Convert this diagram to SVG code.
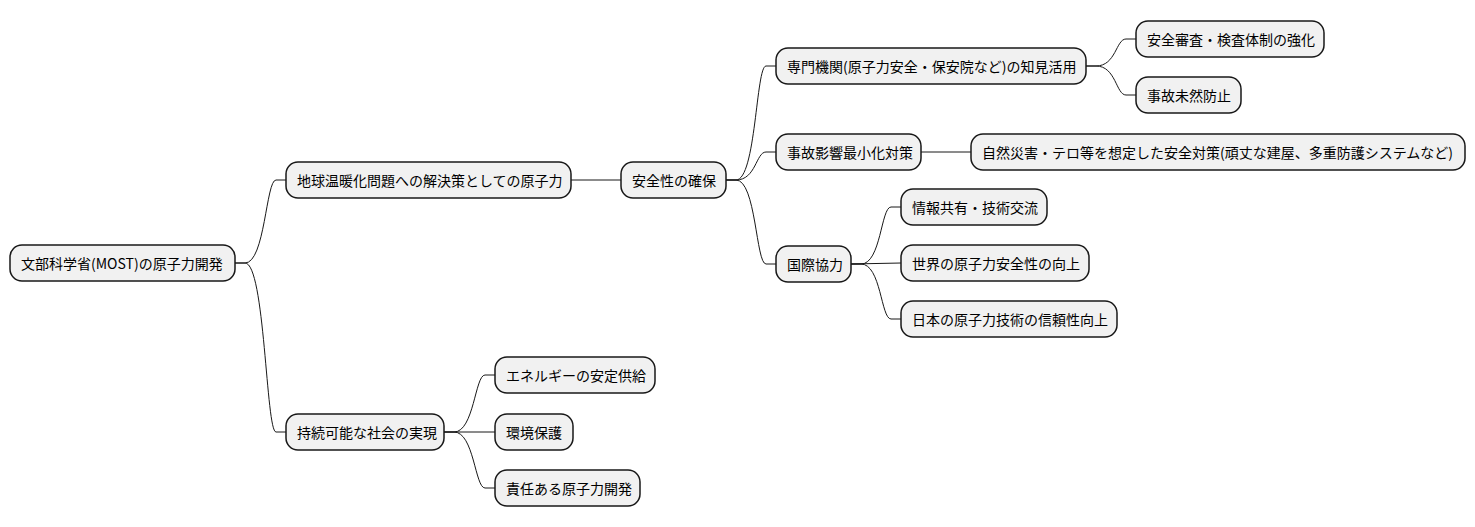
<svg xmlns="http://www.w3.org/2000/svg" width="1475" height="527" viewBox="0 0 1475 527">
<style>
.n rect{fill:#F1F1F1;stroke:#181818;stroke-width:1.5}
.n text{font-family:"Noto Sans CJK JP","Noto Sans",sans-serif;font-size:14px;fill:#000;dominant-baseline:central}
#c path{fill:none;stroke:#181818;stroke-width:1}
</style>
<rect width="1475" height="527" fill="#fff"/>
<g id="c">
<path d="M235,263 L245,263 C265,263 266,180 276,180 L286,180"/>
<path d="M235,263 L245,263 C265,263 266,432 276,432 L286,432"/>
<path d="M571,180 L621,180"/>
<path d="M726,180 L736,180 C756,180 756,66 766,66 L776,66"/>
<path d="M726,180 L736,180 C756,180 756,152 766,152 L776,152"/>
<path d="M726,180 L736,180 C756,180 756,264 766,264 L776,264"/>
<path d="M1086,66 L1096,66 C1116,66 1116,39 1126,39 L1136,39"/>
<path d="M1086,66 L1096,66 C1116,66 1116,95 1126,95 L1136,95"/>
<path d="M921,152 L971,152"/>
<path d="M851,264 L861,264 C881,264 881,207 891,207 L901,207"/>
<path d="M851,264 L901,263"/>
<path d="M851,264 L861,264 C881,264 881,319 891,319 L901,319"/>
<path d="M444,432 L454,432 C474,432 475,375 485,375 L495,375"/>
<path d="M444,432 L495,432"/>
<path d="M444,432 L454,432 C474,432 475,488 485,488 L495,488"/>
</g>
<g id="n0" class="n"><rect x="10" y="245" width="225" height="36" rx="12"/><text x="21" y="263">文部科学省(MOST)の原子力開発</text></g>
<g id="n1" class="n"><rect x="286" y="162" width="285" height="36" rx="12"/><text x="297" y="180">地球温暖化問題への解決策としての原子力</text></g>
<g id="n2" class="n"><rect x="621" y="162" width="105" height="36" rx="12"/><text x="632" y="180">安全性の確保</text></g>
<g id="n3" class="n"><rect x="776" y="48" width="310" height="36" rx="12"/><text x="787" y="66">専門機関(原子力安全・保安院など)の知見活用</text></g>
<g id="n4" class="n"><rect x="1136" y="21" width="188" height="36" rx="12"/><text x="1147" y="39">安全審査・検査体制の強化</text></g>
<g id="n5" class="n"><rect x="1136" y="77" width="105" height="36" rx="12"/><text x="1147" y="95">事故未然防止</text></g>
<g id="n6" class="n"><rect x="776" y="134" width="145" height="36" rx="12"/><text x="787" y="152">事故影響最小化対策</text></g>
<g id="n7" class="n"><rect x="971" y="134" width="494" height="36" rx="12"/><text x="982" y="152">自然災害・テロ等を想定した安全対策(頑丈な建屋、多重防護システムなど)</text></g>
<g id="n8" class="n"><rect x="776" y="246" width="75" height="36" rx="12"/><text x="787" y="264">国際協力</text></g>
<g id="n9" class="n"><rect x="901" y="189" width="146" height="36" rx="12"/><text x="912" y="207">情報共有・技術交流</text></g>
<g id="n10" class="n"><rect x="901" y="245" width="188" height="36" rx="12"/><text x="912" y="263">世界の原子力安全性の向上</text></g>
<g id="n11" class="n"><rect x="901" y="301" width="216" height="36" rx="12"/><text x="912" y="319">日本の原子力技術の信頼性向上</text></g>
<g id="n12" class="n"><rect x="286" y="414" width="158" height="36" rx="12"/><text x="297" y="432">持続可能な社会の実現</text></g>
<g id="n13" class="n"><rect x="495" y="357" width="160" height="36" rx="12"/><text x="506" y="375">エネルギーの安定供給</text></g>
<g id="n14" class="n"><rect x="495" y="414" width="78" height="36" rx="12"/><text x="506" y="432">環境保護</text></g>
<g id="n15" class="n"><rect x="495" y="470" width="145" height="36" rx="12"/><text x="506" y="488">責任ある原子力開発</text></g>
</svg>
